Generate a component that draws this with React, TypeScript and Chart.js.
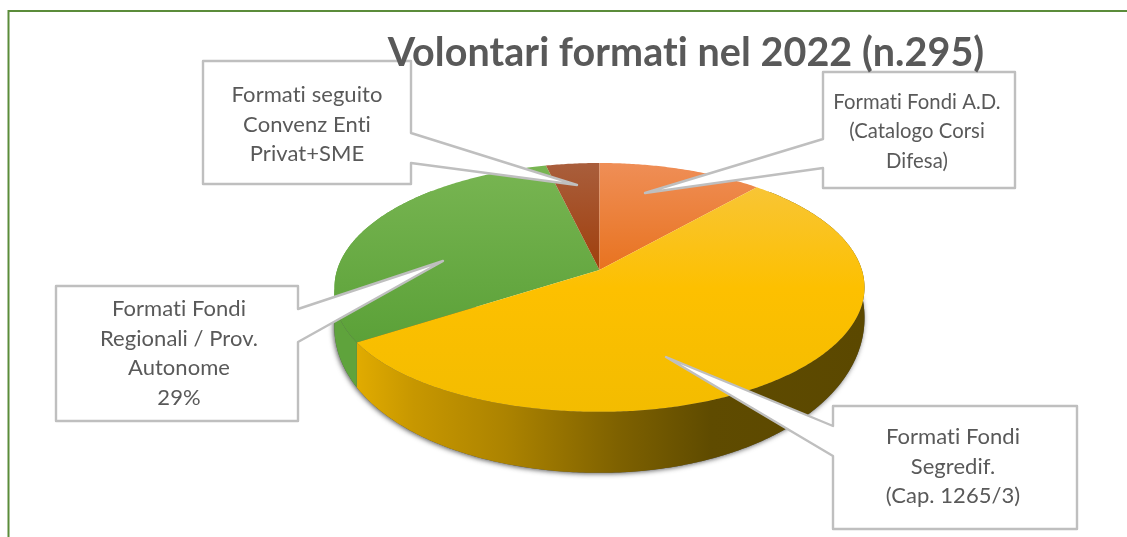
import React, { useEffect, useRef } from "react";
import { Chart, registerables } from "chart.js";

Chart.register(...registerables);

const TITLE = "Volontari formati nel 2022 (n.295)";
const categories = [
  "Formati Fondi A.D. (Catalogo Corsi Difesa)",
  "Formati Fondi Segredif. (Cap. 1265/3)",
  "Formati Fondi Regionali / Prov. Autonome",
  "Formati seguito Convenz Enti Privat+SME",
];
const seriesValues = [34, 160, 90, 11];
const calloutLines = [
  ["Formati Fondi A.D.", "(Catalogo Corsi", "Difesa)"],
  ["Formati Fondi", "Segredif.", "(Cap. 1265/3)"],
  ["Formati Fondi", "Regionali / Prov.", "Autonome", "29%"],
  ["Formati seguito", "Convenz Enti", "Privat+SME"],
];

// Styling and layout (not data)
const FONT = "Lato, 'Noto Sans', sans-serif";
const TEXT = "#595959";
const BOX = "#BFBFBF";
const P = { cx: 599.5, cy: 270, rx: 262.4, ry: 122, k: 0.14, d0: 25.5, d1: 35.5, bulge: 15 };
const faceStops = [
  [[0, "#EF8E56"], [1, "#E87320"]],
  [[0, "#F8C535"], [0.45, "#FDC000"], [1, "#F3BC00"]],
  [[0, "#78B552"], [1, "#5BA138"]],
  [[0, "#A95E3C"], [1, "#A03F0C"]],
];
const callouts = [
  { x0: 823, y0: 72, x1: 1015, y1: 188, side: "left", a: 139, b: 168, tip: [645, 193], tx: 917, ty: 102, size: 20.3 },
  { x0: 833, y0: 406, x1: 1077, y1: 529, side: "left", a: 426, b: 456, tip: [666, 357], tx: 953, ty: 437, size: 22 },
  { x0: 56, y0: 286, x1: 298, y1: 421, side: "right", a: 309, b: 342, tip: [443, 261], tx: 179, ty: 309, size: 22 },
  { x0: 203, y0: 61, x1: 411, y1: 184, side: "right", a: 133, b: 163, tip: [577, 185], tx: 307, ty: 95, size: 22 },
];

function project(theta: number, depth: boolean): [number, number] {
  const u = Math.cos(theta);
  const v = Math.sin(theta);
  const w = 1 - P.k * v;
  const x = P.cx + (P.rx * u) / w - P.bulge * Math.max(0, -u) * Math.max(0, v - 0.15);
  const y = P.cy + (P.ry * v) / w + (depth ? Math.max(0, P.d0 + P.d1 * v) : 0);
  return [x, y];
}

function arcPoints(a: number, b: number, depth: boolean) {
  const n = Math.max(2, Math.ceil((b - a) / 0.01));
  const pts: [number, number][] = [];
  for (let i = 0; i <= n; i++) pts.push(project(a + ((b - a) * i) / n, depth));
  return pts;
}

const pie3d = {
  id: "pie3d",
  beforeDatasetDraw(chart: any, args: any) {
    const ctx: CanvasRenderingContext2D = chart.ctx;
    const arcs = chart.getDatasetMeta(args.index).data;
    ctx.save();

    // drop shadow round the wall
    ctx.save();
    ctx.shadowColor = "rgba(40,40,40,0.75)";
    ctx.shadowBlur = 5;
    ctx.shadowOffsetX = -1;
    ctx.shadowOffsetY = 1;
    ctx.fillStyle = "#555";
    ctx.beginPath();
    arcPoints(0, Math.PI - 0.1, true).forEach(([x, y], i) => (i ? ctx.lineTo(x, y) : ctx.moveTo(x, y)));
    ctx.closePath();
    ctx.fill();
    ctx.restore();

    // side walls
    arcs.forEach((el: any, i: number) => {
      const top = arcPoints(el.startAngle, el.endAngle, false);
      const bot = arcPoints(el.startAngle, el.endAngle, true).reverse();
      let fill: any = "#5FA33C";
      if (i === 1) {
        const g = ctx.createLinearGradient(352, 0, 865, 0);
        g.addColorStop(0, "#E3AD00");
        g.addColorStop(0.12, "#C79700");
        g.addColorStop(0.3, "#AC8300");
        g.addColorStop(0.52, "#7E6100");
        g.addColorStop(0.7, "#5F4B00");
        g.addColorStop(1, "#5B4800");
        fill = g;
      }
      if (i === 0) fill = "#B5581A";
      if (i === 3) fill = "#7A3008";
      ctx.fillStyle = fill;
      ctx.beginPath();
      [...top, ...bot].forEach(([x, y], j) => (j ? ctx.lineTo(x, y) : ctx.moveTo(x, y)));
      ctx.closePath();
      ctx.fill();
    });

    // top faces
    [2, 3, 0, 1].forEach((i) => {
      const el = arcs[i];
      const pts = arcPoints(el.startAngle, el.endAngle, false);
      const ys = pts.map((p) => p[1]).concat(P.cy);
      const g = ctx.createLinearGradient(0, Math.min(...ys), 0, Math.max(...ys));
      (faceStops[i] as any[]).forEach(([o, c]) => g.addColorStop(o, c));
      ctx.fillStyle = g;
      ctx.beginPath();
      ctx.moveTo(P.cx, P.cy);
      pts.forEach(([x, y]) => ctx.lineTo(x, y));
      ctx.closePath();
      ctx.fill();
    });
    ctx.restore();
    return false;
  },
  afterDraw(chart: any) {
    const ctx: CanvasRenderingContext2D = chart.ctx;
    ctx.save();
    (ctx as any).letterSpacing = "0.05px";

    // outer frame
    ctx.strokeStyle = "#5B8C3A";
    ctx.lineWidth = 2;
    ctx.beginPath();
    ctx.moveTo(8.5, 537);
    ctx.lineTo(8.5, 11);
    ctx.lineTo(1127, 11);
    ctx.stroke();

    // callouts
    callouts.forEach((c, i) => {
      ctx.beginPath();
      ctx.moveTo(c.x0, c.y0);
      ctx.lineTo(c.x1, c.y0);
      if (c.side === "right") {
        ctx.lineTo(c.x1, c.a);
        ctx.lineTo(c.tip[0], c.tip[1]);
        ctx.lineTo(c.x1, c.b);
      }
      ctx.lineTo(c.x1, c.y1);
      ctx.lineTo(c.x0, c.y1);
      if (c.side === "left") {
        ctx.lineTo(c.x0, c.b);
        ctx.lineTo(c.tip[0], c.tip[1]);
        ctx.lineTo(c.x0, c.a);
      }
      ctx.closePath();
      ctx.fillStyle = "#FFFFFF";
      ctx.fill();
      ctx.strokeStyle = BOX;
      ctx.lineWidth = 2.4;
      ctx.lineJoin = "round";
      ctx.stroke();

      ctx.fillStyle = TEXT;
      ctx.font = `${c.size}px ${FONT}`;
      ctx.textAlign = "center";
      ctx.textBaseline = "middle";
      calloutLines[i].forEach((l, j) => ctx.fillText(l, c.tx, c.ty + j * 29.7));
    });

    // title sits above the callouts
    ctx.fillStyle = TEXT;
    ctx.font = `bold 39.5px ${FONT}`;
    ctx.textAlign = "center";
    ctx.textBaseline = "alphabetic";
    ctx.fillText(TITLE, 686, 66);
    ctx.restore();
  },
};

export default function App() {
  const ref = useRef<HTMLCanvasElement>(null);
  useEffect(() => {
    document.body.style.margin = "0";
    document.body.style.background = "#fff";
    const chart = new Chart(ref.current!, {
      type: "pie",
      data: {
        labels: categories,
        datasets: [{ data: seriesValues, borderWidth: 0 }],
      },
      options: {
        responsive: false,
        animation: false,
        plugins: { legend: { display: false }, tooltip: { enabled: false }, title: { display: false } },
      },
      plugins: [pie3d],
    } as any);
    return () => chart.destroy();
  }, []);
  return (
    <div style={{ width: 1127, height: 537, overflow: "hidden" }}>
      <canvas ref={ref} width={1127} height={537} style={{ display: "block" }} />
    </div>
  );
}
